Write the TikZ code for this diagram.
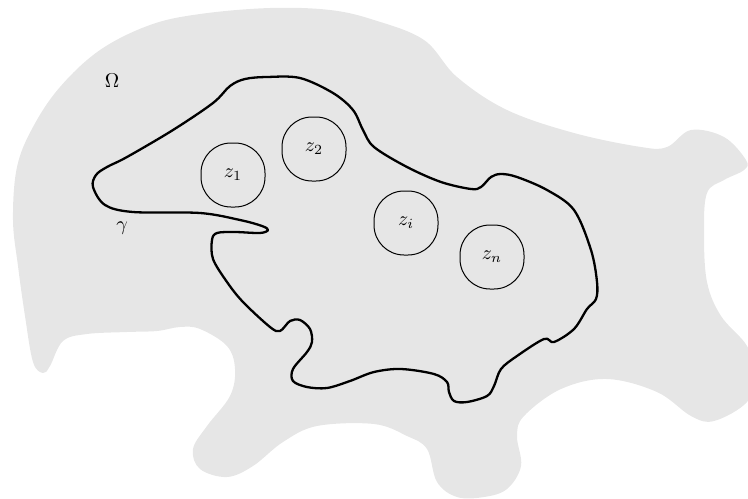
\documentclass[tikz,border=0pt]{standalone}
\usepackage{amsmath,amssymb}
\usepackage{xcolor}
\usepackage{tikz}
\definecolor{omgray}{HTML}{E6E6E6}
\tikzset{
  omegaregion/.style={fill=omgray, draw=none},
  contour/.style={draw=black, line width=1.15pt, line join=round},
  hole/.style={draw=black, line width=0.5pt, rounded corners=15pt,
    minimum width=32pt, minimum height=32pt, inner sep=0pt},
  lbl/.style={inner sep=1pt},
}
\begin{document}
\begin{tikzpicture}[x=0.5pt,y=-0.5pt]
\useasboundingbox (0,0) rectangle (748,498);

% the domain Omega
\path[omegaregion] plot[smooth cycle, tension=0.6] coordinates {
  (150,25) (200,14) (270,8) (330,10) (374,20) (424,40) (457,77) (507,110)
  (574,133) (641,147) (667,147) (691,130) (724,137) (746,160) (744,170)
  (724,180) (707,193) (704,233) (707,282) (721,316) (747,346) (754,375)
  (747,402) (714,421) (691,416) (657,392) (607,379) (561,389) (524,416)
  (517,436) (521,466) (507,489) (484,497) (457,497) (437,482) (427,449)
  (407,436) (374,424) (317,426) (283,442) (253,466) (227,477) (200,469)
  (193,449) (207,426) (230,396) (235,369) (227,346) (200,329) (180,327)
  (157,331) (127,332) (87,334) (63,341) (50,366) (43,373) (33,362)
  (25,316) (18,266) (13,220) (17,167) (33,127) (60,87) (100,50)};

% the curve gamma
\draw[contour] plot[smooth cycle, tension=0.55] coordinates {
  (93,187) (96,175) (107,167) (127,157) (173,130) (213,103) (230,86)
  (245,79) (267,77) (300,78) (333,93) (353,110) (363,130) (374,147)
  (407,167) (441,182) (471,189) (481,187) (491,177) (501,174) (517,177)
  (547,190) (574,210) (591,250) (597,282) (596,299) (587,309) (574,329)
  (554,342) (544,339) (517,356) (501,369) (494,386) (487,396) (467,402)
  (454,401) (449,392) (447,382) (434,374) (401,369) (374,372) (350,381)
  (327,388) (307,387) (293,381) (293,369) (307,352) (312,342) (310,329)
  (300,320) (290,321) (280,331) (270,327) (243,302) (227,282) (213,259)
  (212,240) (217,233) (235,232) (260,233) (268,230) (262,226) (240,220)
  (200,213) (133,212) (105,205)};

% the holes
\node[hole] (z1) at (233,175) {$z_1$};
\node[hole] (z2) at (314,149) {$z_2$};
\node[hole] (zi) at (406,223) {$z_i$};
\node[hole] (zn) at (492,257) {$z_n$};

\node[lbl] (omega) at (112,81) {$\Omega$};
\node[lbl] (gamma) at (122,228) {$\gamma$};
\end{tikzpicture}
\end{document}
